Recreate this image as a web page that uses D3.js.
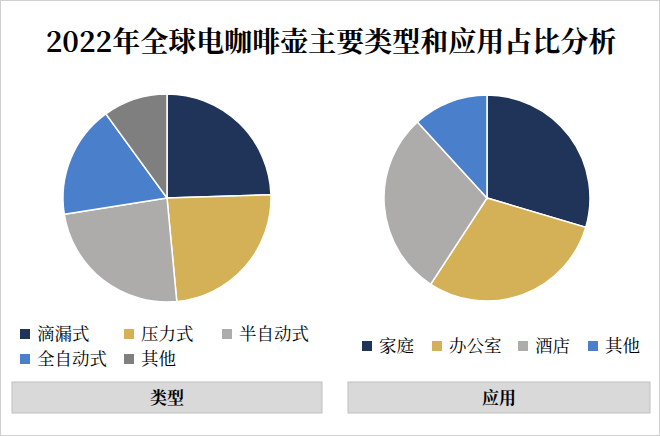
<!DOCTYPE html>
<html><head><meta charset="utf-8">
<script src="https://cdn.jsdelivr.net/npm/d3@7"></script>
<style>body{margin:0;background:#fff}</style></head>
<body><svg id="c" width="660" height="436"></svg>
<script>
const title = "2022年全球电咖啡壶主要类型和应用占比分析";
const typeCats = ["滴漏式","压力式","半自动式","全自动式","其他"];
const typeVals = [24.5,24,24,17.5,10];
const appCats = ["家庭","办公室","酒店","其他"];
const appVals = [29.6,29.6,29,11.8];
const typeColors = ["#1f3458","#d4b156","#aeabab","#4a7fcb","#7f7f7f"];
const appColors = ["#1f3458","#d4b156","#aeabab","#4a7fcb"];
const svg = d3.select("#c");
const font = "'Noto Serif CJK SC','Noto Sans CJK SC',serif";
svg.append("rect").attr("x",0.5).attr("y",0.5).attr("width",659).attr("height",435).attr("fill","#fff").attr("stroke","#d0d0d0");
svg.append("text").attr("x",331).attr("y",52).attr("text-anchor","middle").attr("font-family",font).attr("font-weight","bold").attr("font-size",28).text(title);
function pie(cx,cy,r,vals,cols){
  const arcs = d3.pie().sort(null)(vals);
  const arc = d3.arc().innerRadius(0).outerRadius(r);
  svg.append("g").attr("transform",`translate(${cx},${cy})`).selectAll("path").data(arcs).join("path")
    .attr("d",arc).attr("fill",(d,i)=>cols[i]).attr("stroke","#fff").attr("stroke-width",1.5);
}
pie(167,198,104,typeVals,typeColors);
pie(487,198,103,appVals,appColors);
function legend(items,cols,pos){
  items.forEach((t,i)=>{
    const [x,y]=pos[i];
    svg.append("rect").attr("x",x).attr("y",y-9).attr("width",10).attr("height",10).attr("fill",cols[i]);
    svg.append("text").attr("x",x+17).attr("y",y+2).attr("font-family",font).attr("font-size",17.5).text(t);
  });
}
legend(typeCats,typeColors,[[20,338],[124,338],[222,338],[20,363],[124,363]]);
legend(appCats,appColors,[[362,350],[432,350],[518,350],[588,350]]);
function box(x,w,t){
  svg.append("rect").attr("x",x).attr("y",382).attr("width",w).attr("height",31).attr("fill","#d9d9d9").attr("stroke","#bfbfbf");
  svg.append("text").attr("x",x+w/2).attr("y",404).attr("text-anchor","middle").attr("font-family",font).attr("font-weight","bold").attr("font-size",17).text(t);
}
box(12,310,"类型");
box(348,302,"应用");
</script></body></html>
